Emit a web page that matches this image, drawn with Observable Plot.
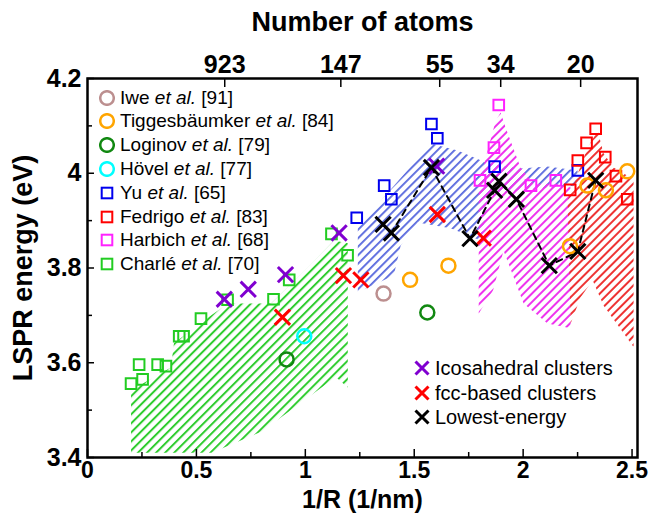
<!DOCTYPE html>
<html><head><meta charset="utf-8">
<script src="https://cdn.jsdelivr.net/npm/d3@7"></script>
<script src="https://cdn.jsdelivr.net/npm/@observablehq/plot@0.6"></script>
<style>
body{margin:0;background:#fff;}
#wrap{position:relative;width:651px;height:515px;overflow:hidden;}
.lg{position:absolute;font-family:"Liberation Sans",Arial,sans-serif;font-size:19px;color:#000;white-space:nowrap;line-height:24px;height:24px;}
.lg svg{position:absolute;left:-21px;top:4px;}
.lg i{font-style:italic;}
</style></head>
<body><div id="wrap"></div>
<script>
// ---- Experimental data ----
const iweX = [1.359];
const iweY = [3.746];
const tiggesX = [1.481, 1.657, 2.215, 2.295, 2.380, 2.478];
const tiggesY = [3.775, 3.805, 3.846, 3.974, 3.964, 4.004];
const loginovX = [0.914, 1.560];
const loginovY = [3.607, 3.706];
const hovelX = [0.995];
const hovelY = [3.656];
const yuX = [1.236, 1.362, 1.395, 1.579, 1.606, 1.869, 2.251];
const yuY = [3.906, 3.974, 3.945, 4.104, 4.074, 4.014, 4.006];
const fedrigoX = [2.333, 2.291, 2.251, 2.377, 2.216, 2.426, 2.478];
const fedrigoY = [4.094, 4.064, 4.027, 4.034, 3.965, 3.994, 3.945];
const harbichX = [1.888, 1.866, 1.802, 2.036, 2.150];
const harbichY = [4.144, 4.054, 3.985, 3.974, 3.985];
const charleX = [0.200, 0.253, 0.237, 0.322, 0.360, 0.421, 0.441, 0.521, 0.643, 0.854, 0.926, 1.120, 1.194];
const charleY = [3.556, 3.565, 3.596, 3.596, 3.593, 3.656, 3.656, 3.693, 3.733, 3.734, 3.775, 3.872, 3.827];
// ---- Computed clusters ----
const icoX = [0.628, 0.738, 0.909, 1.155, 1.603];
const icoY = [3.734, 3.755, 3.786, 3.874, 4.015];
const fccX = [0.895, 1.175, 1.255, 1.606, 1.817];
const fccY = [3.696, 3.784, 3.775, 3.913, 3.863];
const lowestX = [1.357, 1.395, 1.579, 1.756, 1.869, 1.889, 1.969, 2.120, 2.251, 2.333];
const lowestY = [3.892, 3.874, 4.012, 3.862, 3.964, 3.983, 3.945, 3.805, 3.835, 3.985];
// ---- Hatched ranges ----
const greenHatchX = [0.200, 0.383, 0.397, 0.534, 0.645, 0.842, 1.011, 1.131, 1.195, 1.195, 1.140, 0.800, 0.570, 0.200];
const greenHatchY = [3.542, 3.590, 3.641, 3.689, 3.725, 3.725, 3.801, 3.858, 3.852, 3.548, 3.570, 3.455, 3.410, 3.410];
const blueHatchX = [1.241, 1.576, 1.699, 1.837, 1.988, 2.112, 2.250, 2.250, 1.988, 1.851, 1.805, 1.667, 1.516, 1.438, 1.406, 1.241];
const blueHatchY = [3.886, 4.063, 4.048, 4.021, 4.010, 4.014, 4.006, 3.974, 3.964, 3.959, 3.858, 3.884, 3.896, 3.848, 3.784, 3.749];
const magentaHatchX = [1.796, 1.796, 1.874, 1.897, 1.919, 1.988, 2.048, 2.158, 2.218, 2.218, 2.112, 2.002, 1.910, 1.862];
const magentaHatchY = [3.704, 3.978, 4.111, 4.128, 4.097, 4.012, 3.978, 3.978, 3.970, 3.673, 3.683, 3.725, 3.837, 3.753];
const redHatchX = [2.218, 2.204, 2.296, 2.342, 2.369, 2.415, 2.493, 2.507, 2.507, 2.369, 2.319, 2.264];
const redHatchY = [3.683, 3.943, 4.054, 4.090, 4.042, 4.012, 3.991, 3.991, 3.633, 3.721, 3.774, 3.738];
// ---- Axes ----
const xMajorTicks = [0, 0.5, 1, 1.5, 2, 2.5];
const xMajorLabels = ["0", "0.5", "1", "1.5", "2", "2.5"];
const xMinorTicks = [0.25, 0.75, 1.25, 1.75, 2.25];
const yMajorTicks = [3.4, 3.6, 3.8, 4.0, 4.2];
const yMajorLabels = ["3.4", "3.6", "3.8", "4", "4.2"];
const yMinorTicks = [3.5, 3.7, 3.9, 4.1];
const atomsTicks = [0.630, 1.163, 1.617, 1.897, 2.264];
const atomsLabels = ["923", "147", "55", "34", "20"];

const FONT = '"Liberation Sans", Arial, sans-serif';
const idx = a => d3.range(a.length);
const xLab = new Map(xMajorTicks.map((t, i) => [t, xMajorLabels[i]]));
const yLab = new Map(yMajorTicks.map((t, i) => [t, yMajorLabels[i]]));
const aLab = new Map(atomsTicks.map((t, i) => [t, atomsLabels[i]]));

const hatches = [
  {id: "hg", color: "#2fcc2f", w: 2, gap: 6.4, X: greenHatchX, Y: greenHatchY},
  {id: "hb", color: "#5566dd", w: 1.8, gap: 6, X: blueHatchX, Y: blueHatchY},
  {id: "hm", color: "#ee33ee", w: 2, gap: 6, X: magentaHatchX, Y: magentaHatchY},
  {id: "hr", color: "#ee3333", w: 2, gap: 6, X: redHatchX, Y: redHatchY}
];

function pts(X, Y, sym, r, color, sw) {
  return Plot.dot(idx(X), {x: i => X[i], y: i => Y[i], symbol: sym, r, stroke: color, strokeWidth: sw, fill: "none"});
}

const chart = Plot.plot({
  width: 651, height: 515,
  marginLeft: 87, marginRight: 14, marginTop: 78, marginBottom: 58,
  style: {fontFamily: FONT, background: "#fff", color: "#000"},
  x: {domain: [0, 2.525]},
  y: {domain: [3.4, 4.2]},
  marks: [
    ...hatches.map(h => Plot.line(idx(h.X), {x: i => h.X[i], y: i => h.Y[i], curve: "linear-closed", fill: `url(#${h.id})`, stroke: "none"})),
    Plot.line(idx(lowestX), {x: i => lowestX[i], y: i => lowestY[i], stroke: "black", strokeWidth: 2, strokeDasharray: "6,5"}),
    pts(charleX, charleY, "square", 6, "#22cc22", 2),
    pts(yuX, yuY, "square", 6, "#0000ee", 2),
    pts(fedrigoX, fedrigoY, "square", 6, "#ff0000", 2),
    pts(harbichX, harbichY, "square", 6, "#ff22ff", 2),
    pts(iweX, iweY, "circle", 7, "#bc8f8f", 2.5),
    pts(tiggesX, tiggesY, "circle", 7, "#ffa500", 2.5),
    pts(loginovX, loginovY, "circle", 7, "#118811", 2.5),
    pts(hovelX, hovelY, "circle", 7, "#00ffff", 2.5),
    pts(icoX, icoY, "times", 7, "#8000d0", 3),
    pts(fccX, fccY, "times", 7, "#ff0000", 3),
    pts(lowestX, lowestY, "times", 7, "#000000", 3),
    Plot.frame({stroke: "black", strokeWidth: 2.5}),
    // bottom axis
    Plot.axisX(xMinorTicks, {anchor: "bottom", tickSize: 5, dy: -5, fill: "none", label: null, strokeWidth: 1.5}),
    Plot.axisX(xMajorTicks, {anchor: "bottom", tickSize: 8, dy: -8, fill: "none", label: null, strokeWidth: 1.5}),
    Plot.axisX(xMajorTicks, {anchor: "bottom", tickSize: 0, tickPadding: 4, tickFormat: d => xLab.get(d), label: null, fontSize: 23, fontWeight: "bold"}),
    // top axis
    Plot.axisX(atomsTicks, {anchor: "top", tickSize: 8, dy: 8, fill: "none", label: null, strokeWidth: 1.5}),
    Plot.axisX(atomsTicks, {anchor: "top", tickSize: 0, tickPadding: 6, tickFormat: d => aLab.get(d), label: null, fontSize: 25, fontWeight: "bold"}),
    // left axis
    Plot.axisY(yMinorTicks, {anchor: "left", tickSize: 5, dx: 5, fill: "none", label: null, strokeWidth: 1.5}),
    Plot.axisY(yMajorTicks, {anchor: "left", tickSize: 7, dx: 7, fill: "none", label: null, strokeWidth: 1.5}),
    Plot.axisY(yMajorTicks, {anchor: "left", tickSize: 0, tickPadding: 6, tickFormat: d => yLab.get(d), label: null, fontSize: 25, fontWeight: "bold"}),
    // titles
    Plot.text(["Number of atoms"], {frameAnchor: "top", dy: -56, textAnchor: "middle", lineAnchor: "middle", fontSize: 27, fontWeight: "bold"}),
    Plot.text(["1/R (1/nm)"], {frameAnchor: "bottom", dy: 42, textAnchor: "middle", lineAnchor: "middle", fontSize: 25, fontWeight: "bold"}),
    Plot.text(["LSPR energy (eV)"], {frameAnchor: "left", dx: -64, rotate: -90, textAnchor: "middle", lineAnchor: "middle", fontSize: 27, fontWeight: "bold"})
  ]
});

const NS = "http://www.w3.org/2000/svg";
const svgEl = chart.tagName.toLowerCase() === "svg" ? chart : chart.querySelector("svg");
const defs = document.createElementNS(NS, "defs");
defs.innerHTML = hatches.map(h =>
  `<pattern id="${h.id}" patternUnits="userSpaceOnUse" width="${h.gap}" height="${h.gap}" patternTransform="rotate(-45)">` +
  `<rect x="0" y="0" width="${h.gap}" height="${h.w}" fill="${h.color}"/></pattern>`).join("");
svgEl.insertBefore(defs, svgEl.firstChild);

const wrap = document.getElementById("wrap");
wrap.appendChild(chart);

// ---- Legends (HTML overlay) ----
const legendSeries = [
  {name: "Iwe", ref: "[91]", sym: "circle", color: "#bc8f8f"},
  {name: "Tiggesbäumker", ref: "[84]", sym: "circle", color: "#ffa500"},
  {name: "Loginov", ref: "[79]", sym: "circle", color: "#118811"},
  {name: "Hövel", ref: "[77]", sym: "circle", color: "#00ffff"},
  {name: "Yu", ref: "[65]", sym: "square", color: "#0000ee"},
  {name: "Fedrigo", ref: "[83]", sym: "square", color: "#ff0000"},
  {name: "Harbich", ref: "[68]", sym: "square", color: "#ff22ff"},
  {name: "Charlé", ref: "[70]", sym: "square", color: "#22cc22"}
];
const clusterLegend = [
  {name: "Icosahedral clusters", color: "#8000d0"},
  {name: "fcc-based clusters", color: "#ff0000"},
  {name: "Lowest-energy", color: "#000000"}
];
function icon(sym, color) {
  if (sym === "circle") return `<svg width="16" height="16"><circle cx="8" cy="8" r="6.8" fill="none" stroke="${color}" stroke-width="2.5"/></svg>`;
  if (sym === "square") return `<svg width="16" height="16"><rect x="2.7" y="2.7" width="10.6" height="10.6" fill="none" stroke="${color}" stroke-width="2"/></svg>`;
  return `<svg width="16" height="16"><path d="M1.5,1.5L14.5,14.5M1.5,14.5L14.5,1.5" stroke="${color}" stroke-width="3"/></svg>`;
}
legendSeries.forEach((s, i) => {
  const d = document.createElement("div");
  d.className = "lg";
  d.style.left = "120px";
  d.style.top = (97.5 + i * 23.8 - 12) + "px";
  d.innerHTML = icon(s.sym, s.color) + `${s.name} <i>et al.</i> ${s.ref}`;
  wrap.appendChild(d);
});
clusterLegend.forEach((s, i) => {
  const d = document.createElement("div");
  d.className = "lg";
  d.style.left = "435px";
  d.style.fontSize = "20px";
  d.style.top = (368 + i * 24.5 - 12) + "px";
  d.innerHTML = icon("times", s.color) + s.name;
  wrap.appendChild(d);
});
</script></body></html>
